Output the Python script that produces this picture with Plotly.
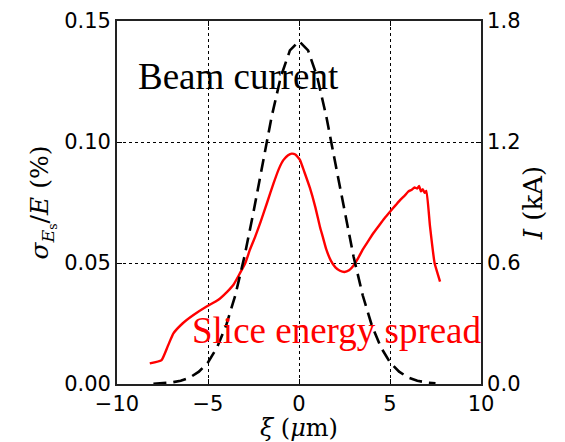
import plotly.graph_objects as go

# Longitudinal position along the bunch (um)
xi_spread = [-8.2, -7.55, -7.2, -6.9, -6.4, -5.8, -5.1, -4.45, -3.95, -3.6, -3.25,
             -2.95, -2.7, -2.4, -2.1, -1.75, -1.4, -1.1, -0.85, -0.6, -0.4, -0.2, 0.05,
             0.3, 0.6, 0.9, 1.15, 1.3, 1.5, 1.75, 2.0, 2.25, 2.5, 2.75, 3.0, 3.25, 3.5,
             3.8, 4.1, 4.45, 4.7, 5.0, 5.3, 5.55, 5.8, 6.0, 6.2, 6.35, 6.5, 6.6, 6.7,
             6.8, 6.9, 7.0, 7.2, 7.45, 7.6, 7.75]
# Slice energy spread (%)
spread = [0.0085, 0.0099, 0.0158, 0.0209, 0.025, 0.0285, 0.0319, 0.0347, 0.0381,
          0.041, 0.0457, 0.050, 0.0554, 0.061, 0.0672, 0.075, 0.0829, 0.089, 0.0926,
          0.0945, 0.0952, 0.0948, 0.0926, 0.0875, 0.081, 0.073, 0.065, 0.061, 0.0556,
          0.051, 0.0482, 0.0468, 0.0463, 0.047, 0.049, 0.052, 0.0555, 0.059, 0.0625,
          0.066, 0.0685, 0.0712, 0.0738, 0.076, 0.0778, 0.0795, 0.0803, 0.0812, 0.0808,
          0.0818, 0.0796, 0.0805, 0.079, 0.0798, 0.065, 0.050, 0.046, 0.0423]

xi_current = [-8.0, -7.5, -7.0, -6.5, -6.0, -5.5, -5.0, -4.5, -4.0, -3.5, -3.0, -2.5,
              -2.0, -1.5, -1.0, -0.5, 0.0, 0.5, 1.0, 1.5, 2.0, 2.5, 3.0, 3.5, 4.0, 4.5,
              5.0, 5.5, 6.0, 6.5, 7.0, 7.5]
# Beam current (kA)
current = [0.0015, 0.0035, 0.0077, 0.016, 0.032, 0.061, 0.107, 0.182, 0.291, 0.440,
           0.631, 0.853, 1.093, 1.327, 1.523, 1.654, 1.70, 1.654, 1.523, 1.327, 1.093,
           0.853, 0.631, 0.440, 0.291, 0.182, 0.107, 0.061, 0.032, 0.016, 0.0077, 0.0035]

x_ticks = [-10, -5, 0, 5, 10]
left_ticks = [0.0, 0.05, 0.10, 0.15]
left_labels = ["0.00", "0.05", "0.10", "0.15"]
right_ticks = [0.0, 0.6, 1.2, 1.8]
right_labels = ["0.0", "0.6", "1.2", "1.8"]

tick_font = dict(family="DejaVu Sans", size=21, color="black")
title_font = dict(family="DejaVu Serif", size=25, color="black")

fig = go.Figure()
fig.add_trace(go.Scatter(x=xi_spread, y=spread, mode="lines",
                         line=dict(color="red", width=2.4, shape="spline", smoothing=0.4),
                         yaxis="y", showlegend=False))
fig.add_trace(go.Scatter(x=xi_current, y=current, mode="lines",
                         line=dict(color="black", width=2.6, dash="13px,7px"),
                         yaxis="y2", showlegend=False))

axis_common = dict(showline=True, linecolor="#222", linewidth=1.8, ticks="inside",
                   ticklen=5, tickcolor="black", tickfont=tick_font, zeroline=False,
                   automargin=False)

fig.update_layout(
    width=565, height=442,
    margin=dict(l=117, r=84, t=21, b=58),
    plot_bgcolor="white", paper_bgcolor="white",
    xaxis=dict(range=[-10, 10], tickvals=x_ticks,
               ticktext=["\u221210", "\u22125", "0", "5", "10"],
               showgrid=True, gridcolor="black", griddash="dot", gridwidth=1,
               mirror="ticks",
               title=dict(text="<i>\u03be</i> (<i>\u03bc</i>m)", font=dict(
                   family="DejaVu Serif", size=24, color="black"), standoff=2),
               **axis_common),
    yaxis=dict(range=[0, 0.15], tickvals=left_ticks, ticktext=left_labels,
               showgrid=True, gridcolor="black", griddash="dot", gridwidth=1,
               title=dict(text="<i>\u03c3</i><sub><i>E</i><sub>s</sub></sub>/<i>E</i> (%)",
                          font=title_font, standoff=8),
               **axis_common),
    yaxis2=dict(range=[0, 1.8], tickvals=right_ticks, ticktext=right_labels,
                overlaying="y", side="right", showgrid=False,
                title=dict(text="<i>I</i> (kA)", font=dict(family="DejaVu Serif", size=26,
                                                          color="black"), standoff=4),
                **axis_common),
    annotations=[
        dict(text="Beam current", x=136, y=76, xref="paper", yref="paper",
             showarrow=False, font=dict(family="Liberation Serif", size=37, color="black"),
             xanchor="left", yanchor="middle"),
        dict(text="Slice energy spread", x=190, y=330, xref="paper", yref="paper",
             showarrow=False, font=dict(family="Liberation Serif", size=37, color="red"),
             xanchor="left", yanchor="middle"),
    ],
)

# annotation positions above are in pixels; convert to paper fractions
pw = 565 - 117 - 84
ph = 442 - 21 - 58
for ann in fig.layout.annotations:
    ann.x = (ann.x - 117) / pw
    ann.y = (442 - 58 - ann.y) / ph

fig.write_html("out.html")
